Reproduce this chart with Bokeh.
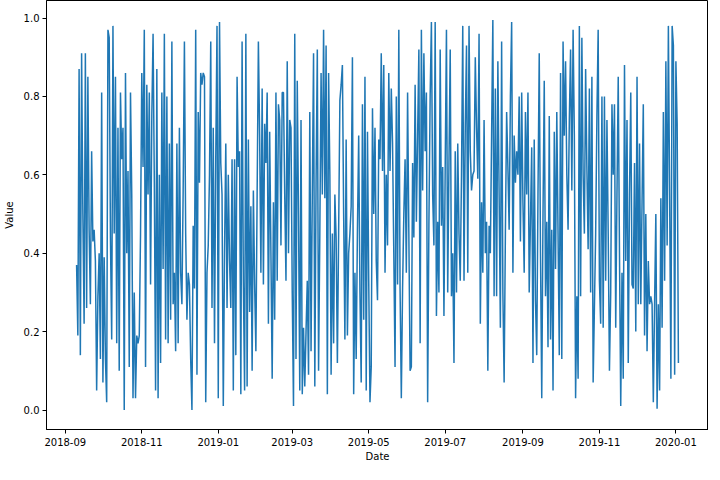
import pandas as pd
from bokeh.plotting import figure
from bokeh.models import (ColumnDataSource, Range1d, FixedTicker, MonthsTicker,
                          DatetimeTickFormatter, PrintfTickFormatter)
from bokeh.embed import file_html
from bokeh.resources import INLINE

start_date = "2018-09-10"

values_a = [0.37, 0.19, 0.87, 0.14, 0.91, 0.50, 0.22, 0.91, 0.26, 0.85, 0.46, 0.27, 0.66, 0.43, 0.46, 0.38, 0.05, 0.29, 0.40, 0.13,
            0.81, 0.07, 0.39, 0.13, 0.02, 0.97, 0.95, 0.44, 0.18, 0.98, 0.45, 0.85, 0.17, 0.72, 0.10, 0.81, 0.64, 0.72]
values_b = [0.00, 0.86, 0.40, 0.61, 0.11, 0.81, 0.55, 0.03, 0.30, 0.03, 0.19, 0.17, 0.19, 0.45, 0.86, 0.62, 0.97, 0.11, 0.83, 0.55,
            0.81, 0.32, 0.75, 0.96, 0.58, 0.05, 0.87, 0.03, 0.60, 0.12, 0.81, 0.36, 0.96, 0.18, 0.80, 0.17, 0.68, 0.23, 0.94, 0.27,
            0.35, 0.15]
values_c = [0.68, 0.17, 0.72, 0.35, 0.27, 0.56, 0.94, 0.45, 0.23, 0.35, 0.32, 0.13, 0.00, 0.47, 0.31, 0.97, 0.09, 0.76, 0.58, 0.86,
            0.83, 0.86, 0.85, 0.02, 0.35, 0.42, 0.60, 0.94, 0.26, 0.72, 0.17, 0.64, 0.98, 0.03, 0.99, 0.63, 0.55, 0.01, 0.40, 0.68,
            0.26, 0.60, 0.38]
values_d = [0.26, 0.64, 0.05, 0.64, 0.14, 0.85, 0.62, 0.66, 0.04, 0.94, 0.33, 0.05, 0.96, 0.06, 0.69, 0.25, 0.52, 0.10, 0.56, 0.32,
            0.15, 0.55, 0.94, 0.70, 0.35, 0.82, 0.32, 0.73, 0.63, 0.81, 0.22, 0.71, 0.40, 0.08, 0.53, 0.23, 0.81, 0.33, 0.78, 0.74,
            0.42, 0.81]
values_e = [0.81, 0.55, 0.33, 0.89, 0.40, 0.74, 0.72, 0.30, 0.01, 0.96, 0.13, 0.84, 0.50, 0.05, 0.74, 0.04, 0.21, 0.06, 0.20, 0.33,
            0.09, 0.76, 0.15, 0.55, 0.91, 0.06, 0.58, 0.92, 0.10, 0.45, 0.86, 0.55, 0.97, 0.54, 0.93, 0.04, 0.86, 0.60, 0.09, 0.45,
            0.17, 0.55, 0.44]
values_f = [0.12, 0.45, 0.79, 0.83, 0.88, 0.50, 0.18, 0.69, 0.19, 0.40, 0.45, 0.52, 0.90, 0.04, 0.35, 0.13, 0.46, 0.70, 0.30, 0.07,
            0.78, 0.23, 0.85, 0.05, 0.71, 0.33, 0.02, 0.11, 0.77, 0.50, 0.72, 0.38, 0.28, 0.69, 0.64, 0.91, 0.61, 0.88, 0.35, 0.60,
            0.42, 0.86]
values_g = [0.61, 0.82, 0.68, 0.40, 0.11, 0.80, 0.32, 0.97, 0.31, 0.03, 0.31, 0.50, 0.64, 0.35, 0.81, 0.45, 0.10, 0.11, 0.63, 0.44,
            0.83, 0.48, 0.70, 0.92, 0.17, 0.97, 0.56, 0.91, 0.66, 0.81, 0.02, 0.47, 0.80, 0.99, 0.55, 0.42, 0.99, 0.24, 0.48, 0.30,
            0.92, 0.47, 0.62]
values_h = [0.24, 0.62, 0.97, 0.30, 0.63, 0.92, 0.29, 0.40, 0.12, 0.66, 0.30, 0.68, 0.45, 0.33, 0.60, 0.98, 0.33, 0.72, 0.93, 0.35,
            0.98, 0.66, 0.56, 0.60, 0.61, 0.90, 0.72, 0.59, 0.96, 0.22, 0.53, 0.35, 0.74, 0.40, 0.48, 0.10, 0.47, 0.40, 0.70, 0.995,
            0.29, 0.82]
values_i = [0.29, 0.89, 0.55, 0.21, 0.94, 0.30, 0.07, 0.45, 0.76, 0.62, 0.46, 0.80, 0.99, 0.35, 0.70, 0.58, 0.66, 0.60, 0.80, 0.43,
            0.81, 0.53, 0.35, 0.76, 0.55, 0.81, 0.30, 0.48, 0.67, 0.12, 0.69, 0.28, 0.14, 0.55, 0.91, 0.40, 0.03, 0.50, 0.84, 0.29,
            0.48, 0.16, 0.75]
values_j = [0.18, 0.46, 0.05, 0.71, 0.36, 0.76, 0.45, 0.14, 0.86, 0.13, 0.94, 0.70, 0.89, 0.60, 0.46, 0.74, 0.92, 0.56, 0.97, 0.70,
            0.03, 0.29, 0.08, 0.98, 0.29, 0.95, 0.60, 0.45, 0.87, 0.62, 0.41, 0.82, 0.30, 0.85, 0.07, 0.26, 0.45, 0.75, 0.97, 0.33,
            0.22, 0.80]
values_k = [0.21, 0.80, 0.33, 0.74, 0.45, 0.10, 0.30, 0.78, 0.60, 0.78, 0.21, 0.55, 0.85, 0.40, 0.01, 0.35, 0.08, 0.88, 0.38, 0.74,
            0.12, 0.55, 0.81, 0.32, 0.31, 0.63, 0.20, 0.85, 0.27, 0.68, 0.27, 0.53, 0.78, 0.19, 0.50, 0.15, 0.38, 0.27, 0.29, 0.27,
            0.02, 0.27, 0.50]
values_l = [0.003, 0.27, 0.05, 0.54, 0.21, 0.76, 0.33, 0.89, 0.42, 0.98, 0.55, 0.08, 0.98, 0.93, 0.09, 0.89, 0.73, 0.12]

values = (values_a + values_b + values_c + values_d + values_e + values_f +
          values_g + values_h + values_i + values_j + values_k + values_l)
dates = pd.date_range(start_date, periods=len(values), freq="D")

y_ticks = [0.0, 0.2, 0.4, 0.6, 0.8, 1.0]

source = ColumnDataSource(data=dict(date=dates, value=values))

# matplotlib-like 5% margins on both axes
span = dates[-1] - dates[0]
x_lo = dates[0] - span * 0.05
x_hi = dates[-1] + span * 0.05
vmin, vmax = min(values), max(values)
vr = vmax - vmin

p = figure(width=708, height=464, x_axis_type="datetime",
           output_backend="svg", toolbar_location=None,
           x_range=Range1d(x_lo, x_hi),
           y_range=Range1d(vmin - 0.05 * vr, vmax + 0.05 * vr),
           min_border_left=0, min_border_right=0, min_border_top=0, min_border_bottom=0)

p.line("date", "value", source=source, line_color="#1f77b4", line_width=1.5)

p.xgrid.visible = False
p.ygrid.visible = False
p.outline_line_color = "black"
p.outline_line_width = 1
p.background_fill_color = "white"
p.border_fill_color = "white"

p.xaxis.ticker = MonthsTicker(months=[0, 2, 4, 6, 8, 10])
p.xaxis.formatter = DatetimeTickFormatter(months="%Y-%m", days="%Y-%m", years="%Y-%m")
p.yaxis.ticker = FixedTicker(ticks=y_ticks)
p.yaxis.formatter = PrintfTickFormatter(format="%.1f")

for ax in (p.xaxis, p.yaxis):
    ax.axis_line_color = "black"
    ax.major_tick_line_color = "black"
    ax.major_tick_out = 4
    ax.major_tick_in = 0
    ax.minor_tick_line_color = None
    ax.major_label_text_font = "DejaVu Sans"
    ax.major_label_text_font_size = "10px"
    ax.major_label_text_color = "black"
    ax.axis_label_text_font = "DejaVu Sans"
    ax.axis_label_text_font_size = "10px"
    ax.axis_label_text_font_style = "normal"
    ax.axis_label_text_color = "black"

p.xaxis.major_label_standoff = 4
p.xaxis.axis_label_standoff = 2
p.yaxis.major_label_standoff = 3
p.yaxis.axis_label_standoff = 6

p.xaxis.axis_label = "Date"
p.yaxis.axis_label = "Value"

open("out.html", "w").write(file_html(p, INLINE))
